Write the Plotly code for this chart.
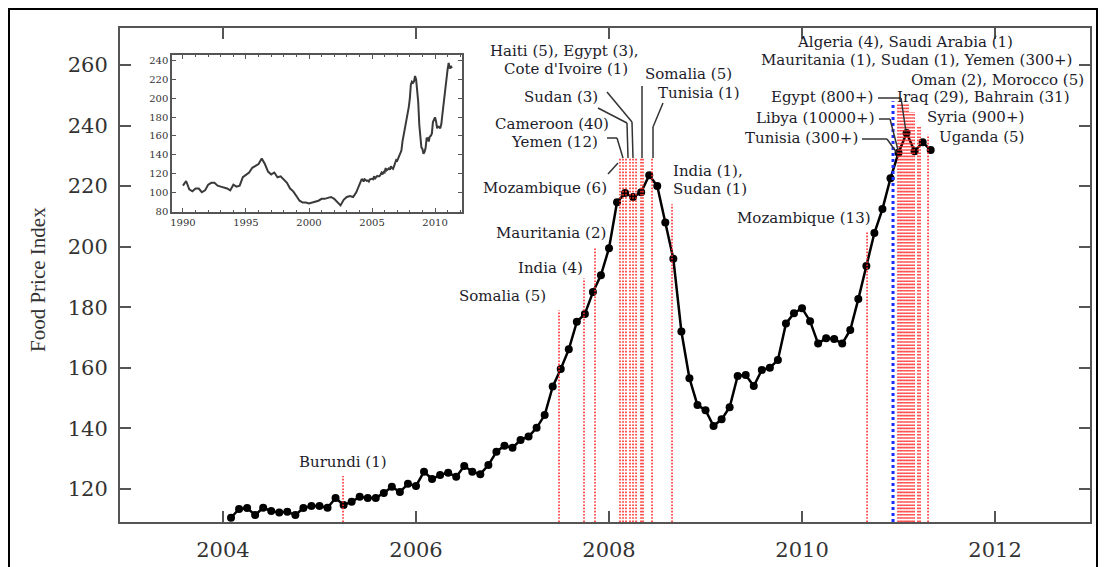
import plotly.graph_objects as go

# ---------------- data ----------------
# FAO food price index, monthly, Feb 2004 .. May 2011 (month offset from Jan 2004)
month_offsets = list(range(1, 89))
food_index = [
    110.5, 113.4, 113.7, 111.4, 113.8, 112.7, 112.2, 112.5, 111.4, 113.7, 114.4,          # 2004
    114.4, 113.8, 117.0, 114.7, 115.8, 117.4, 117.0, 117.0, 118.7, 120.7, 119.0, 121.7,   # 2005
    121.0, 125.7, 123.3, 124.6, 125.4, 124.0, 127.6, 125.7, 124.9, 127.9, 132.3, 134.3,   # 2006
    133.6, 136.2, 137.3, 140.2, 144.4, 153.8, 159.6, 166.1, 175.2, 177.8, 185.0, 190.6,   # 2007
    199.5, 214.7, 217.7, 216.4, 218.0, 223.6, 220.0, 208.0, 196.0, 172.0, 156.6, 147.7,   # 2008
    146.0, 140.8, 143.0, 147.0, 157.3, 157.6, 154.0, 159.3, 160.0, 162.6, 174.6, 178.0,   # 2009
    179.7, 175.4, 168.0, 169.8, 169.5, 168.0, 172.5, 182.7, 193.6, 204.5, 212.4, 222.6,   # 2010
    231.0, 237.5, 231.5, 234.5, 231.9,                                                    # 2011
]

# inset: earlier history, quarterly 1990 .. 2003
early_quarters = list(range(56))
early_index = [
    107, 112, 103, 101,   104, 104, 100, 102,   108, 110, 110, 107,   106, 105, 104, 102,
    108, 106, 107, 116,   119, 121, 126, 128,   130, 136, 130, 122,   119, 121, 116, 117,
    113, 110, 104, 101,   96, 91, 89, 89,       88, 89, 90, 91,       93, 93, 94, 95,
    93, 89, 86, 92,       95, 96, 95, 100,
]

# riot events (decimal year, height of the marker line)
red_event_dates = [2005.244, 2007.482, 2007.741, 2007.855,
                   2008.114, 2008.145, 2008.176, 2008.218, 2008.249, 2008.280, 2008.332, 2008.352, 2008.446,
                   2008.653, 2010.674,
                   2010.995, 2011.016, 2011.036, 2011.057, 2011.078, 2011.098,
                   2011.119, 2011.140, 2011.161, 2011.202, 2011.223, 2011.306]
red_event_tops = [124.3, 179.0, 189.6, 200.0,
                  229, 229, 229, 229, 229, 229, 229, 229, 229,
                  214.0, 205.0,
                  247.5, 247.5, 247.5, 247.5, 247.5, 247.5,
                  244.5, 244.5, 244.5, 239.5, 239.5, 237.0]
blue_event_dates = [2010.943]
blue_event_tops = [248.0]

x_ticks = [2004, 2006, 2008, 2010, 2012]
y_ticks = [120, 140, 160, 180, 200, 220, 240, 260]
inset_x_ticks = [1990, 1995, 2000, 2005, 2010]
inset_y_ticks = [80, 100, 120, 140, 160, 180, 200, 220, 240]

# ---------------- layout helpers ----------------
W, H = 1104, 567
L, R, T, B = 120, 1090, 28, 522
X_MIN, X_MAX = 2002.933, 2012.984
Y_MIN, Y_MAX = 109.1, 272.2


def px2x(px):
    return X_MIN + (px - L) / (R - L) * (X_MAX - X_MIN)


def py2y(py):
    return Y_MAX - (py - T) / (B - T) * (Y_MAX - Y_MIN)


main_x = [2004 + m / 12 for m in month_offsets]
inset_x = [1990 + q / 4 for q in early_quarters] + main_x
inset_y = early_index + food_index

fig = go.Figure()


def vlines(dates, tops):
    xs, ys = [], []
    for d, t in zip(dates, tops):
        xs += [d, d, None]
        ys += [Y_MIN, t, None]
    return xs, ys


# main series
fig.add_trace(go.Scatter(x=main_x, y=food_index, mode="lines+markers",
                         line=dict(color="black", width=2.5),
                         marker=dict(color="black", size=8),
                         hoverinfo="skip", showlegend=False))

rx, ry = vlines(red_event_dates, red_event_tops)
fig.add_trace(go.Scatter(x=rx, y=ry, mode="lines",
                         line=dict(color="#ff2a2a", width=1.6, dash="1.6px,1.6px"),
                         hoverinfo="skip", showlegend=False))
bx, by = vlines(blue_event_dates, blue_event_tops)
fig.add_trace(go.Scatter(x=bx, y=by, mode="lines",
                         line=dict(color="#1a2cff", width=3, dash="3px,3px"),
                         hoverinfo="skip", showlegend=False))

# inset series
fig.add_trace(go.Scatter(x=inset_x, y=inset_y, mode="lines", xaxis="x2", yaxis="y2",
                         line=dict(color="#3a3a3a", width=2),
                         hoverinfo="skip", showlegend=False))

# leader lines (pixel polylines)
leaders = [
    [(608, 174), (618, 163)],
    [(607, 138), (617, 138), (623, 158)],
    [(598, 108), (627, 123), (628, 158)],
    [(607, 92), (632, 122), (633, 158)],
    [(642, 86), (642, 158)],
    [(663, 103), (653, 127), (653, 158)],
    [(878, 98), (901, 98), (906, 132)],
    [(879, 119), (890, 119), (898, 150)],
    [(862, 139), (887, 139), (897, 153)],
]
shapes = []
for poly in leaders:
    for (x0, y0), (x1, y1) in zip(poly[:-1], poly[1:]):
        shapes.append(dict(type="line", xref="x", yref="y",
                           x0=px2x(x0), y0=py2y(y0), x1=px2x(x1), y1=py2y(y1),
                           line=dict(color="#333333", width=1.5)))
# outer frame of the figure
shapes.append(dict(type="rect", xref="paper", yref="paper",
                   x0=(9 - L) / (R - L), x1=(1097 - L) / (R - L),
                   y0=-0.3, y1=(B - 9) / (B - T),
                   line=dict(color="black", width=2), fillcolor="rgba(0,0,0,0)", layer="below"))

labels = [
    ("Burundi (1)", 343, 462, "center"),
    ("Somalia (5)", 547, 296, "right"),
    ("India (4)", 584, 268, "right"),
    ("Mauritania (2)", 607, 233, "right"),
    ("Mozambique (6)", 608, 188, "right"),
    ("Yemen (12)", 599, 142, "right"),
    ("Cameroon (40)", 610, 124, "right"),
    ("Sudan (3)", 599, 97, "right"),
    ("Haiti (5), Egypt (3),", 564, 51, "center"),
    ("Cote d'Ivoire (1)", 566, 69, "center"),
    ("Somalia (5)", 644, 74, "left"),
    ("Tunisia (1)", 657, 93, "left"),
    ("India (1),", 672, 171, "left"),
    ("Sudan (1)", 672, 189, "left"),
    ("Mozambique (13)", 872, 218, "right"),
    ("Algeria (4), Saudi Arabia (1)", 905, 42, "center"),
    ("Mauritania (1), Sudan (1), Yemen (300+)", 1073, 60, "right"),
    ("Oman (2), Morocco (5)", 1085, 80, "right"),
    ("Egypt (800+)", 874, 97, "right"),
    ("Iraq (29), Bahrain (31)", 896, 97, "left"),
    ("Libya (10000+)", 876, 118, "right"),
    ("Syria (900+)", 926, 117, "left"),
    ("Tunisia (300+)", 859, 138, "right"),
    ("Uganda (5)", 938, 137, "left"),
]
annotations = []
for text, px, py, anchor in labels:
    annotations.append(dict(text=text, x=px2x(px), y=py2y(py), xref="x", yref="y",
                            xanchor=anchor, yanchor="middle", showarrow=False, borderpad=0,
                            font=dict(family="DejaVu Serif", size=15, color="#1c1c2a")))
annotations.append(dict(text="Food Price Index", xref="paper", yref="paper",
                        x=(38 - L) / (R - L), y=(B - 280) / (B - T), textangle=-90,
                        xanchor="center", yanchor="middle", showarrow=False,
                        font=dict(family="Liberation Serif", size=21, color="#333333")))

axis_common = dict(showline=True, linecolor="#555555", linewidth=2, mirror="ticks",
                   ticks="inside", tickcolor="#555555", tickwidth=2, ticklen=11,
                   showgrid=False, zeroline=False, automargin=False,
                   tickfont=dict(family="DejaVu Serif", size=21, color="#333333"))

inset_common = dict(showline=True, linecolor="#555555", linewidth=1.5, mirror="ticks",
                    ticks="inside", tickcolor="#555555", tickwidth=1.2, ticklen=4,
                    showgrid=False, zeroline=False, automargin=False,
                    tickfont=dict(family="DejaVu Serif", size=10, color="#333333"))

fig.update_layout(
    width=W, height=H,
    margin=dict(l=L, r=W - R, t=T, b=H - B, pad=0),
    paper_bgcolor="white", plot_bgcolor="white",
    xaxis=dict(range=[X_MIN, X_MAX], tickvals=x_ticks, ticklabelstandoff=8, **axis_common),
    yaxis=dict(range=[Y_MIN, Y_MAX], tickvals=y_ticks, ticklabelstandoff=6, **axis_common),
    xaxis2=dict(domain=[(172 - L) / (R - L), (462 - L) / (R - L)], anchor="y2",
                range=[1989.13, 2012.14], tickvals=inset_x_ticks,
                minor=dict(dtick=1, tick0=1990, ticks="inside", ticklen=2.5, tickcolor="#555555"),
                **inset_common),
    yaxis2=dict(domain=[(B - 212) / (B - T), (B - 55) / (B - T)], anchor="x2",
                range=[79, 246], tickvals=inset_y_ticks, **inset_common),
    shapes=shapes,
    annotations=annotations,
    showlegend=False,
)

fig.write_html("out.html", config={"displayModeBar": False},
               post_script="document.body.style.margin='0';document.body.style.overflow='hidden';")
